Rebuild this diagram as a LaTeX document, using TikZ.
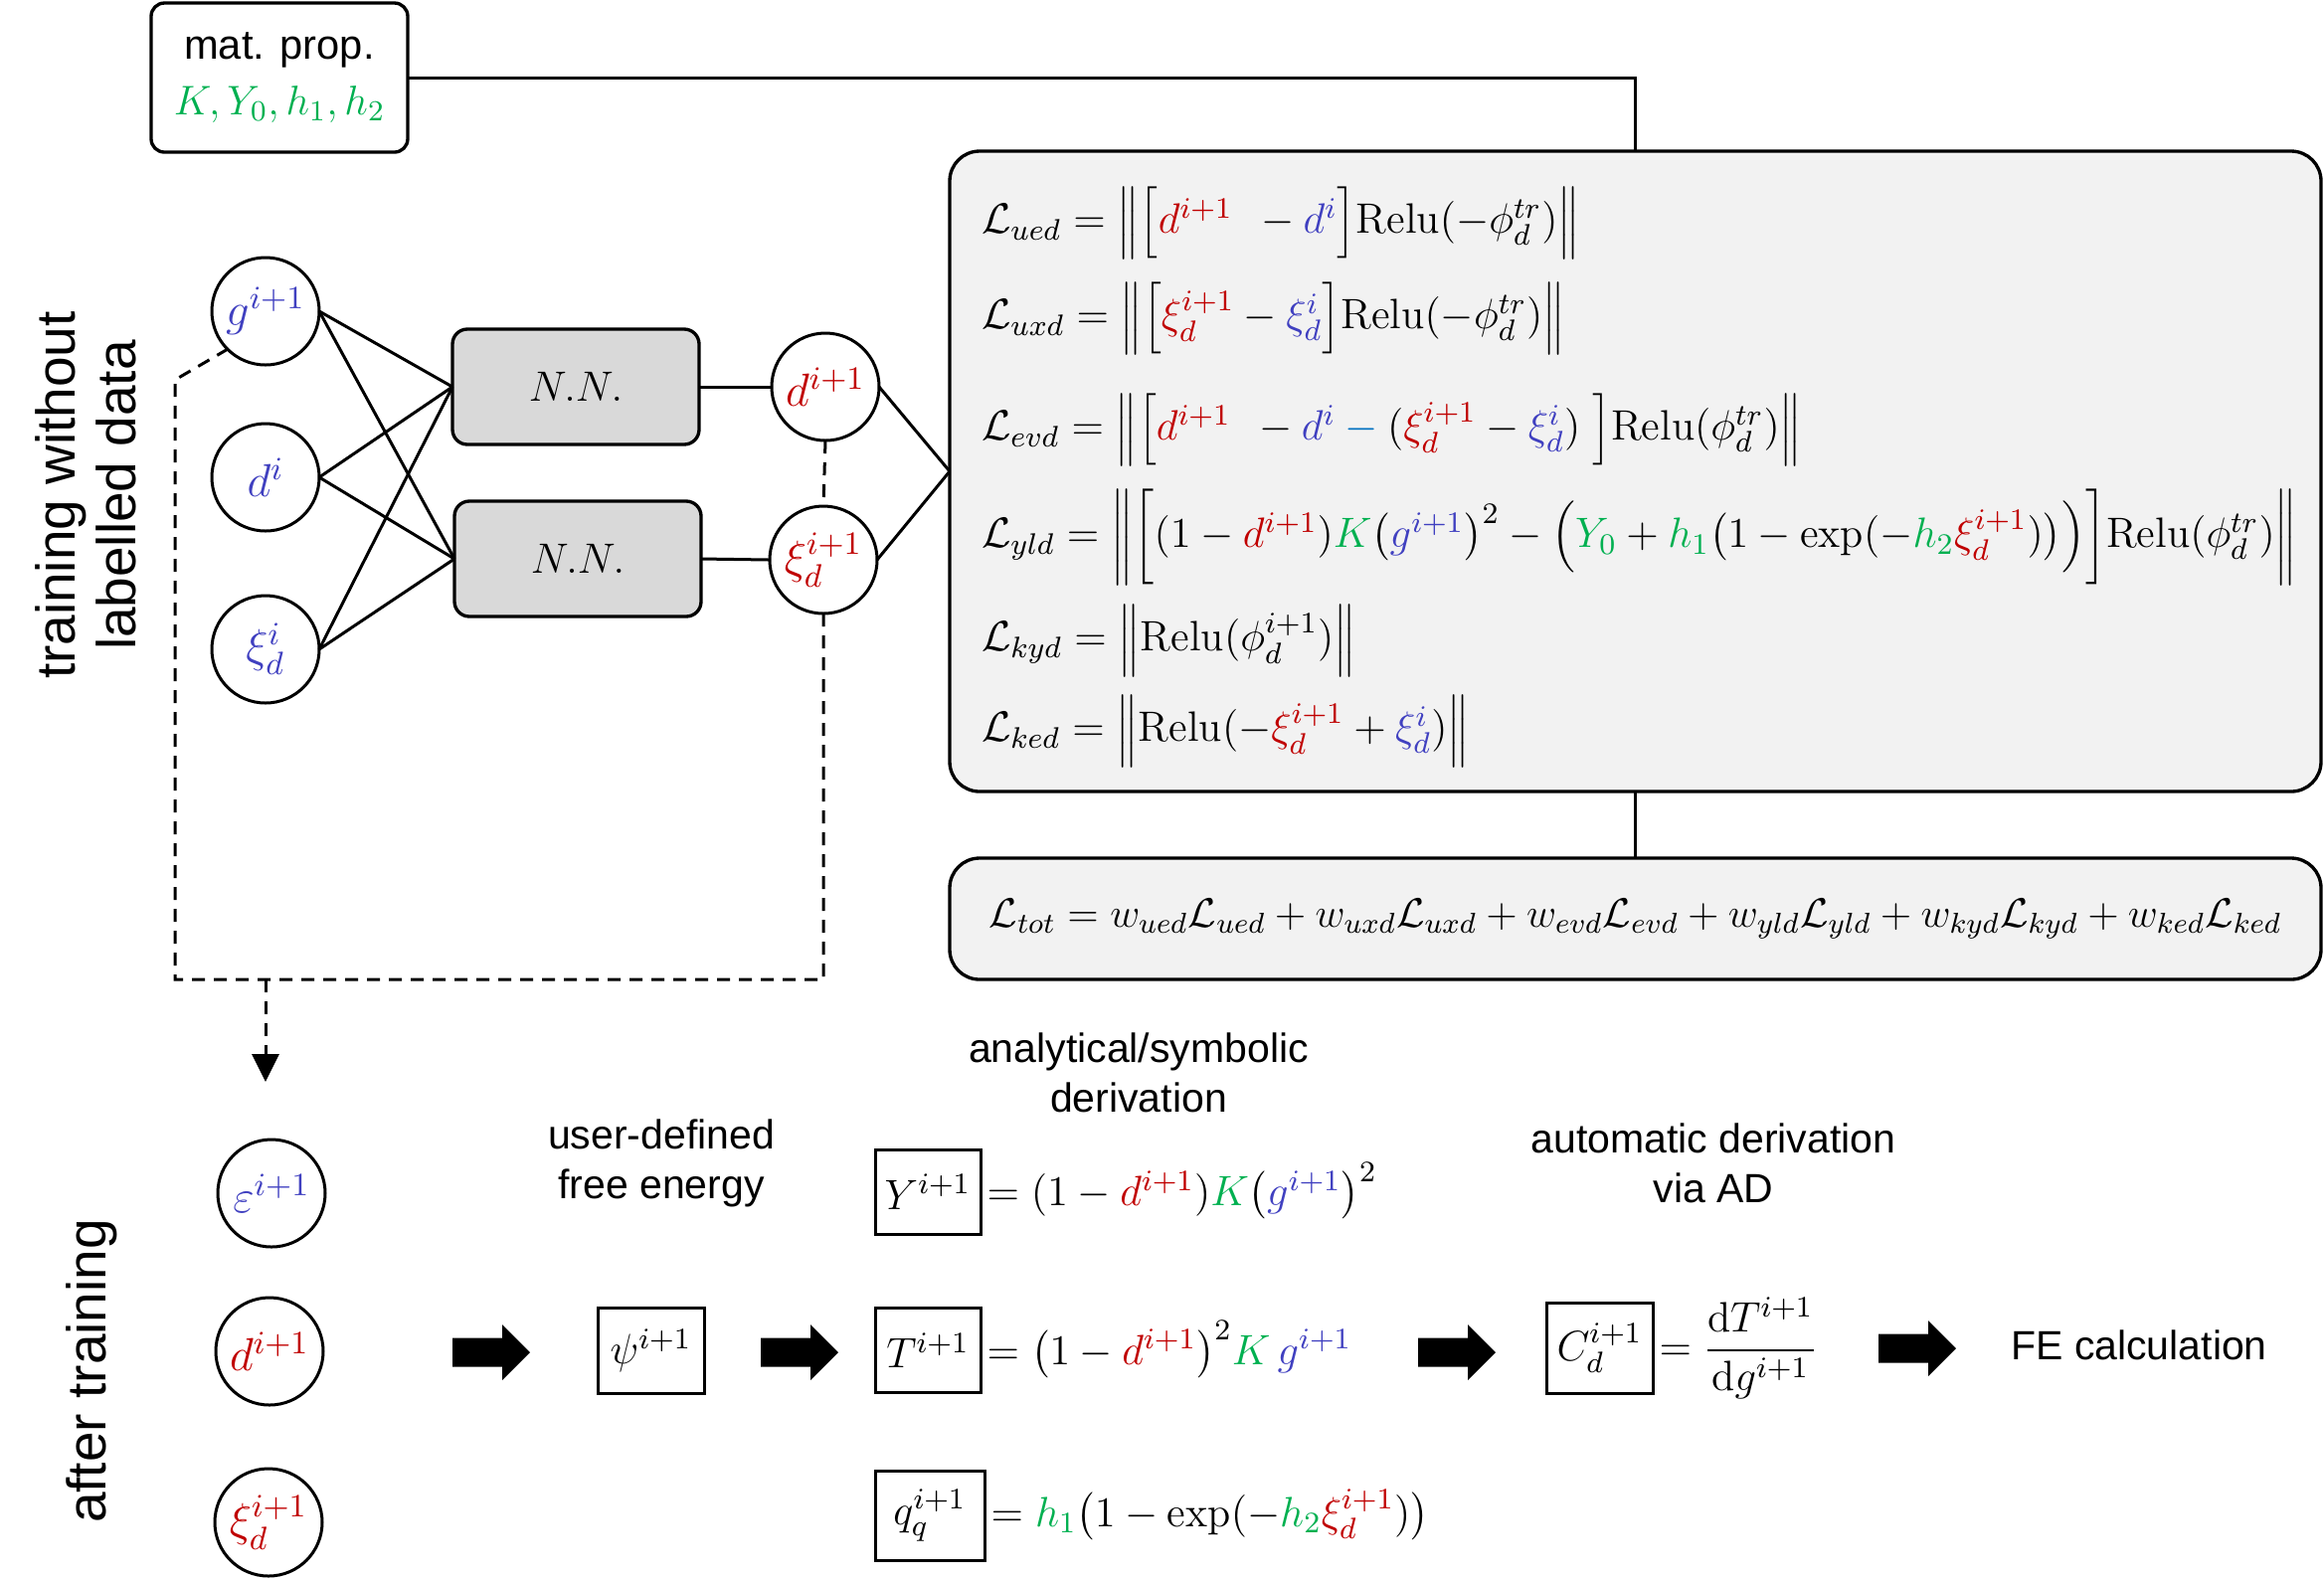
\RequirePackage{fix-cm}
\documentclass[tikz,border=0pt]{standalone}
\usepackage{amsmath}
\usepackage{fontspec}
\setsansfont{Liberation Sans}
\usetikzlibrary{arrows.meta}
\definecolor{cred}{HTML}{C00000}
\definecolor{cblue}{HTML}{4040C0}
\definecolor{clblue}{HTML}{0070C0}
\definecolor{cgreen}{HTML}{00B050}
\definecolor{lossgray}{HTML}{F2F2F2}
\definecolor{nngray}{HTML}{D9D9D9}
\newcommand{\R}[1]{\textcolor{cred}{#1}}
\newcommand{\B}[1]{\textcolor{cblue}{#1}}
\newcommand{\G}[1]{\textcolor{cgreen}{#1}}
\begin{document}
\begin{tikzpicture}[x=0.3pt,y=-0.3pt,
  every node/.style={inner sep=0pt, outer sep=0pt},
  mathfont/.style={font=\fontsize{12.8}{15}\selectfont},
  conn/.style={line width=0.9pt},
  dashline/.style={line width=0.9pt, dash pattern=on 3.9pt off 2.7pt},
  circ/.style={circle, draw, line width=0.9pt, minimum size=32.4pt, font=\fontsize{14}{16}\selectfont},
  nnbox/.style={draw, rounded corners=4.5pt, fill=nngray, line width=1pt, minimum width=74.4pt, minimum height=34.8pt, mathfont},
  lossbox/.style={draw, rounded corners=9pt, fill=lossgray, line width=1pt, minimum width=413.7pt},
  eqbox/.style={draw, line width=0.9pt, mathfont},
  eqn/.style={anchor=west, mathfont},
  lbl/.style={font=\fontsize{12.3}{15}\selectfont\sffamily, align=center},
  side/.style={font=\fontsize{16.5}{18.3}\selectfont\sffamily, align=center, rotate=90},
  fatarr/.pic={\fill (0,-14.5) -- (50,-14.5) -- (50,-28) -- (78,0) -- (50,28) -- (50,14.5) -- (0,14.5) -- cycle;}
]
\useasboundingbox (0,0) rectangle (2337,1588);

% material properties box
\node[draw, rounded corners=4pt, line width=1pt, minimum width=77.4pt, minimum height=45pt,
      align=center, font=\fontsize{12.5}{16.8}\selectfont] (mat) at (281,78)
      {\sffamily mat. prop.\\ $\G{K, Y_0, h_1, h_2}$};

% loss box
\node[lossbox, minimum height=193.2pt] (loss) at (1644.5,474) {};
\node[eqn] (e1) at (987,224) {$\mathcal{L}_{ued} = \Big\|\Big[\R{d^{i+1}}\;\, - \B{d^{i}}\Big]\mathrm{Relu}(-\phi_d^{tr})\Big\|$};
\node[eqn] (e2) at (987,320) {$\mathcal{L}_{uxd} = \Big\|\Big[\R{\xi_d^{i+1}} - \B{\xi_d^{i}}\Big]\mathrm{Relu}(-\phi_d^{tr})\Big\|$};
\node[eqn] (e3) at (987,432) {$\mathcal{L}_{evd} = \Big\|\Big[\R{d^{i+1}}\;\, - \B{d^{i}} \mathbin{\textcolor{clblue}{-}} (\R{\xi_d^{i+1}} - \B{\xi_d^{i}})\;\Big]\mathrm{Relu}(\phi_d^{tr})\Big\|$};
\node[eqn] (e4) at (987,540) {$\mathcal{L}_{yld} = \bigg\|\bigg[(1-\R{d^{i+1}})\G{K}\big(\B{g^{i+1}}\big)^2 - \Big(\G{Y_0} + \G{h_1}\big(1-\exp(-\G{h_2}\R{\xi_d^{i+1}})\big)\Big)\bigg]\mathrm{Relu}(\phi_d^{tr})\bigg\|$};
\node[eqn] (e5) at (987,644) {$\mathcal{L}_{kyd} = \Big\|\mathrm{Relu}(\phi_d^{i+1})\Big\|$};
\node[eqn] (e6) at (987,735) {$\mathcal{L}_{ked} = \Big\|\mathrm{Relu}(-\R{\xi_d^{i+1}} + \B{\xi_d^{i}})\Big\|$};

% total loss box
\node[lossbox, minimum height=36.6pt, font=\fontsize{12.4}{15}\selectfont] (tot) at (1644.5,924)
  {$\mathcal{L}_{tot} = w_{ued}\mathcal{L}_{ued} + w_{uxd}\mathcal{L}_{uxd} + w_{evd}\mathcal{L}_{evd} + w_{yld}\mathcal{L}_{yld} + w_{kyd}\mathcal{L}_{kyd} + w_{ked}\mathcal{L}_{ked}$};

\draw[conn] (mat.east) -| (loss.north);
\draw[conn] (loss.south) -- (tot.north);

% network
\node[circ] (g)  at (267,313) {$\B{g^{i+1}}$};
\node[circ] (di) at (267,480) {$\B{d^{i}}$};
\node[circ] (xi) at (267,653) {$\B{\xi_d^{i}}$};
\node[nnbox] (nn1) at (579,389) {$N.N.$};
\node[nnbox] (nn2) at (581,562) {$N.N.$};
\node[circ] (d1) at (830,389) {$\R{d^{i+1}}$};
\node[circ] (x1) at (828,563) {$\R{\xi_d^{i+1}}$};

\foreach \a in {g,di,xi} {
  \foreach \b in {nn1,nn2} { \draw[conn] (\a.east) -- (\b.west); }
}
\draw[conn] (nn1.east) -- (d1.west);
\draw[conn] (nn2.east) -- (x1.west);
\draw[conn] (d1.east) -- (loss.west);
\draw[conn] (x1.east) -- (loss.west);

\coordinate (cbl) at (176,985);
\coordinate (ctl) at (176,382);
\coordinate (ca) at (267,985);
\coordinate (cb) at (267,1088);
\draw[dashline] (d1.south) -- (x1.north);
\draw[dashline] (x1.south) |- (cbl) -- (ctl) -- (g.225);
\draw[dashline, -{Triangle[length=8.4pt,width=8.1pt]}] (ca) -- (cb);

% side labels
\node[side] (tw) at (86,498) {training without\\labelled data};
\node[side] (at) at (92,1379) {after training};

% after training
\node[circ] (eps) at (273,1200) {$\B{\varepsilon^{i+1}}$};
\node[circ] (d2)  at (271,1359) {$\R{d^{i+1}}$};
\node[circ] (x2)  at (270,1531) {$\R{\xi_d^{i+1}}$};

\pic at (455,1360) {fatarr};
\pic at (765,1360) {fatarr};
\pic at (1426,1360) {fatarr};
\pic at (1889,1356) {fatarr};

\node[eqbox, minimum width=32.1pt, minimum height=25.8pt] (psi) at (654.5,1358) {$\psi^{i+1}$};
\node[eqbox, minimum width=31.8pt, minimum height=25.5pt] (Yb) at (933,1198.5) {$Y^{i+1}$};
\node[eqbox, minimum width=31.8pt, minimum height=25.5pt] (Tb) at (933,1358) {$T^{i+1}$};
\node[eqbox, minimum width=33pt, minimum height=27pt] (qb) at (935,1524) {$q_q^{i+1}$};
\node[eqbox, minimum width=32.1pt, minimum height=27.3pt] (Cb) at (1608.5,1355.5) {$C_d^{i+1}$};

\node[eqn, xshift=2pt] (ye) at (Yb.east) {$= (1-\R{d^{i+1}})\G{K}\big(\B{g^{i+1}}\big)^2$};
\node[eqn, xshift=2pt] (te) at (Tb.east) {$= \big(1-\R{d^{i+1}}\big)^2\G{K}\,\B{g^{i+1}}$};
\node[eqn, xshift=2pt] (qe) at (qb.east) {$= \G{h_1}\big(1-\exp(-\G{h_2}\R{\xi_d^{i+1}})\big)$};
\node[eqn, xshift=2pt] (ce) at (Cb.east) {$= \dfrac{\mathrm{d}T^{i+1}}{\mathrm{d}g^{i+1}}$};

\node[lbl] (ud)  at (665,1170) {user-defined\\free energy};
\node[lbl] (asd) at (1145,1079) {analytical/symbolic\\derivation};
\node[lbl] (ad)  at (1723,1170) {automatic derivation\\via AD};
\node[lbl] (fe)  at (2151,1353) {FE calculation};
\end{tikzpicture}
\end{document}
